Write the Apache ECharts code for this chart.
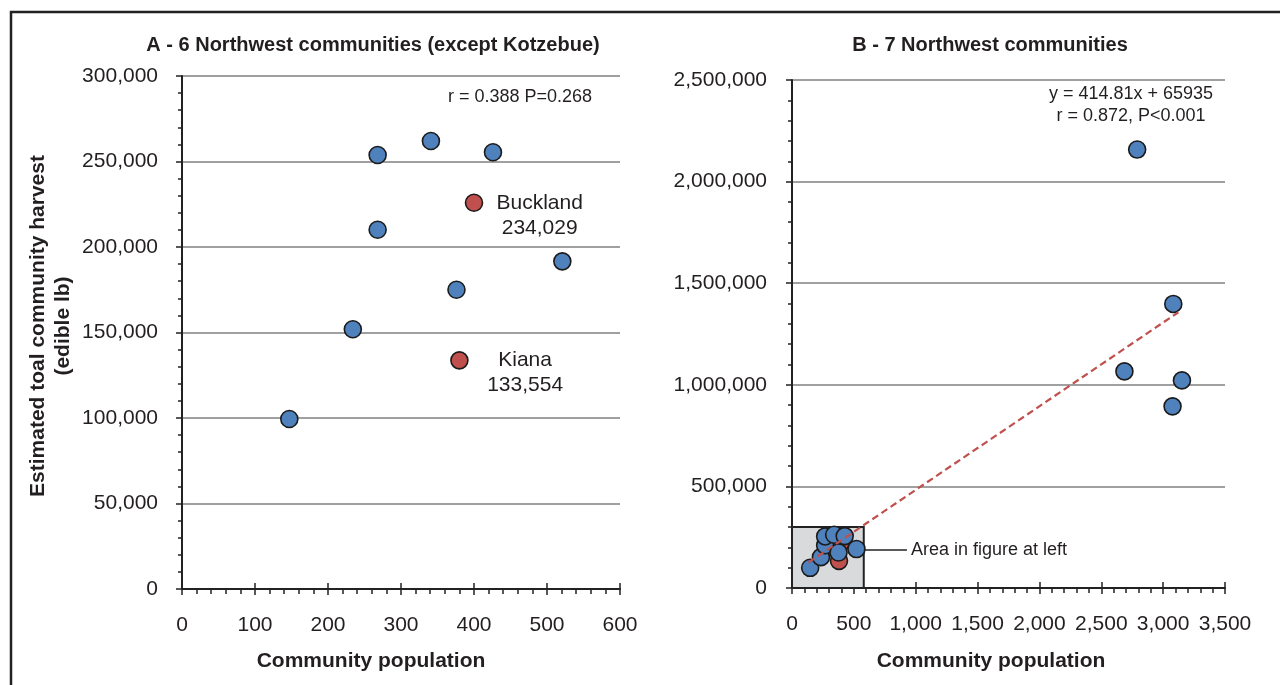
<!DOCTYPE html>
<html>
<head>
<meta charset="utf-8">
<script src="https://cdn.jsdelivr.net/npm/echarts@6/dist/echarts.min.js"></script>
<style>
html,body{margin:0;padding:0;background:#fff;}
#chart{width:1280px;height:685px;}
</style>
</head>
<body>
<div id="chart"></div>
<script>
// ---- Data ----
const popA = [147, 234, 268, 268, 341, 426, 376, 521];
const harvestA = [99400, 151900, 210100, 253800, 262000, 255400, 175000, 191600];
const redNames = ['Buckland', 'Kiana'];
const redPop = [400, 380];
const redHarvest = [225900, 133700];
const redLabels = ['234,029', '133,554'];
const popB = [2790, 3082, 2687, 3152, 3076];
const harvestB = [2157700, 1398000, 1066000, 1021600, 894000];
const trendX = [134, 3123];
const trendY = [126000, 1357000];
const boxX = [0, 580];
const boxY = [0, 300000];
const leaderX = [580, 929];
const leaderY = [186600, 186600];
const titleA = 'A - 6 Northwest communities (except Kotzebue)';
const titleB = 'B - 7 Northwest communities';
const xName = 'Community population';
const yName1 = 'Estimated toal community harvest';
const yName2 = '(edible lb)';
const statA = 'r = 0.388 P=0.268';
const statB1 = 'y = 414.81x + 65935';
const statB2 = 'r = 0.872, P<0.001';
const boxNote = 'Area in figure at left';

const FONT = '"Liberation Sans", Arial, sans-serif';
const TXT = '#231f20';
const BLUE = '#4F81BD';
const RED = '#C0504D';
const fmt = v => String(v).replace(/\B(?=(\d{3})+(?!\d))/g, ',');

function pairs(xs, ys) { return xs.map((x, i) => [x, ys[i]]); }

function xAxisMain(grid, max, interval) {
  return {
    type: 'value', gridIndex: grid, position: 'bottom', min: 0, max: max, interval: interval,
    axisLine: { show: true, onZero: false, lineStyle: { color: '#222', width: 2 } },
    axisTick: { show: true, inside: false, length: 6, lineStyle: { color: '#222', width: 1.5 } },
    minorTick: { show: true, splitNumber: 5, length: 5, lineStyle: { color: '#222', width: 1.5 } },
    axisLabel: { color: TXT, fontSize: 21, fontFamily: FONT, margin: 26, formatter: fmt },
    splitLine: { show: false }
  };
}
function xAxisInner(grid, max, interval) {
  return {
    type: 'value', gridIndex: grid, position: 'bottom', min: 0, max: max, interval: interval,
    axisLine: { show: false },
    axisTick: { show: true, inside: true, length: 6, lineStyle: { color: '#222', width: 1.5 } },
    axisLabel: { show: false },
    splitLine: { show: false }
  };
}
function yAxisMain(grid, max, interval, margin) {
  return {
    type: 'value', gridIndex: grid, min: 0, max: max, interval: interval,
    axisLine: { show: true, onZero: false, lineStyle: { color: '#222', width: 2 } },
    axisTick: { show: true, inside: false, length: 6, lineStyle: { color: '#222', width: 1.5 } },
    minorTick: { show: true, splitNumber: 5, length: 4, lineStyle: { color: '#222', width: 1.5 } },
    axisLabel: { color: TXT, fontSize: 21, fontFamily: FONT, margin: margin, formatter: fmt },
    splitLine: { show: true, lineStyle: { color: '#a0a0a0', width: 2 } }
  };
}

const markerStyle = c => ({ color: c, borderColor: '#1b1b1b', borderWidth: 1.6, opacity: 1 });

const chart = echarts.init(document.getElementById('chart'), null, { renderer: 'canvas' });

const option = {
  backgroundColor: '#fff',
  animation: false,
  textStyle: { fontFamily: FONT },
  grid: [
    { left: 182, right: 660, top: 76, bottom: 96 },
    { left: 792, right: 55, top: 80, bottom: 97 }
  ],
  xAxis: [
    xAxisMain(0, 600, 100),
    xAxisInner(0, 600, 100),
    xAxisMain(1, 3500, 500),
    xAxisInner(1, 3500, 500)
  ],
  yAxis: [
    yAxisMain(0, 300000, 50000, 24),
    yAxisMain(1, 2500000, 500000, 25)
  ],
  series: [
    {
      type: 'scatter', xAxisIndex: 0, yAxisIndex: 0, symbolSize: 17, z: 3,
      itemStyle: markerStyle(RED),
      data: redPop.map((x, i) => ({ value: [x, redHarvest[i]], name: redNames[i], label: redLabels[i] })),
      label: {
        show: true, position: [75, 22], align: 'center', verticalAlign: 'middle',
        fontSize: 21, lineHeight: 25, color: TXT, fontFamily: FONT,
        formatter: p => p.name + '\n' + p.data.label
      }
    },
    {
      type: 'scatter', xAxisIndex: 0, yAxisIndex: 0, symbolSize: 17, z: 4,
      itemStyle: markerStyle(BLUE),
      data: pairs(popA, harvestA)
    },
    // right panel: grey box (area shown at left)
    {
      type: 'line', xAxisIndex: 2, yAxisIndex: 1, data: [], z: 1, silent: true,
      markArea: {
        silent: true,
        itemStyle: { color: '#d9dadb', borderColor: '#222', borderWidth: 2 },
        data: [[{ coord: [boxX[0], boxY[0]] }, { coord: [boxX[1], boxY[1]] }]]
      },
      markLine: {
        silent: true, symbol: ['none', 'none'],
        lineStyle: { color: '#222', width: 1.5, type: 'solid' },
        label: { show: true, position: 'end', distance: 4, formatter: boxNote, fontSize: 18, color: TXT, fontFamily: FONT },
        data: [[{ coord: [leaderX[0], leaderY[0]] }, { coord: [leaderX[1], leaderY[1]] }]]
      }
    },
    {
      type: 'scatter', xAxisIndex: 2, yAxisIndex: 1, symbolSize: 17, z: 3,
      itemStyle: markerStyle(RED),
      data: pairs(redPop, redHarvest)
    },
    {
      type: 'scatter', xAxisIndex: 2, yAxisIndex: 1, symbolSize: 17, z: 4,
      itemStyle: markerStyle(BLUE),
      data: pairs(popA, harvestA).concat(pairs(popB, harvestB))
    },
    {
      type: 'line', xAxisIndex: 2, yAxisIndex: 1, z: 5, symbol: 'none', silent: true,
      lineStyle: { color: RED, width: 2.2, type: [7, 4] },
      data: pairs(trendX, trendY)
    }
  ],
  graphic: [
    { type: 'rect', silent: true, z: 100, shape: { x: 11, y: 12, width: 1400, height: 800 },
      style: { fill: 'none', stroke: '#222', lineWidth: 2.5 } },
    { type: 'text', x: 373, y: 45, silent: true,
      style: { text: titleA, font: 'bold 20px ' + FONT, fill: TXT, textAlign: 'center', textVerticalAlign: 'middle' } },
    { type: 'text', x: 990, y: 45, silent: true,
      style: { text: titleB, font: 'bold 20px ' + FONT, fill: TXT, textAlign: 'center', textVerticalAlign: 'middle' } },
    { type: 'text', x: 371, y: 661, silent: true,
      style: { text: xName, font: 'bold 21px ' + FONT, fill: TXT, textAlign: 'center', textVerticalAlign: 'middle' } },
    { type: 'text', x: 991, y: 661, silent: true,
      style: { text: xName, font: 'bold 21px ' + FONT, fill: TXT, textAlign: 'center', textVerticalAlign: 'middle' } },
    { type: 'text', x: 38, y: 326, rotation: Math.PI / 2, silent: true,
      style: { text: yName1, font: 'bold 21px ' + FONT, fill: TXT, textAlign: 'center', textVerticalAlign: 'middle' } },
    { type: 'text', x: 63, y: 326, rotation: Math.PI / 2, silent: true,
      style: { text: yName2, font: 'bold 21px ' + FONT, fill: TXT, textAlign: 'center', textVerticalAlign: 'middle' } },
    { type: 'text', x: 520, y: 97, silent: true,
      style: { text: statA, font: '18px ' + FONT, fill: TXT, textAlign: 'center', textVerticalAlign: 'middle' } },
    { type: 'text', x: 1131, y: 94, silent: true,
      style: { text: statB1, font: '18px ' + FONT, fill: TXT, textAlign: 'center', textVerticalAlign: 'middle' } },
    { type: 'text', x: 1131, y: 116, silent: true,
      style: { text: statB2, font: '18px ' + FONT, fill: TXT, textAlign: 'center', textVerticalAlign: 'middle' } }
  ]
};
chart.setOption(option);
</script>
</body>
</html>
